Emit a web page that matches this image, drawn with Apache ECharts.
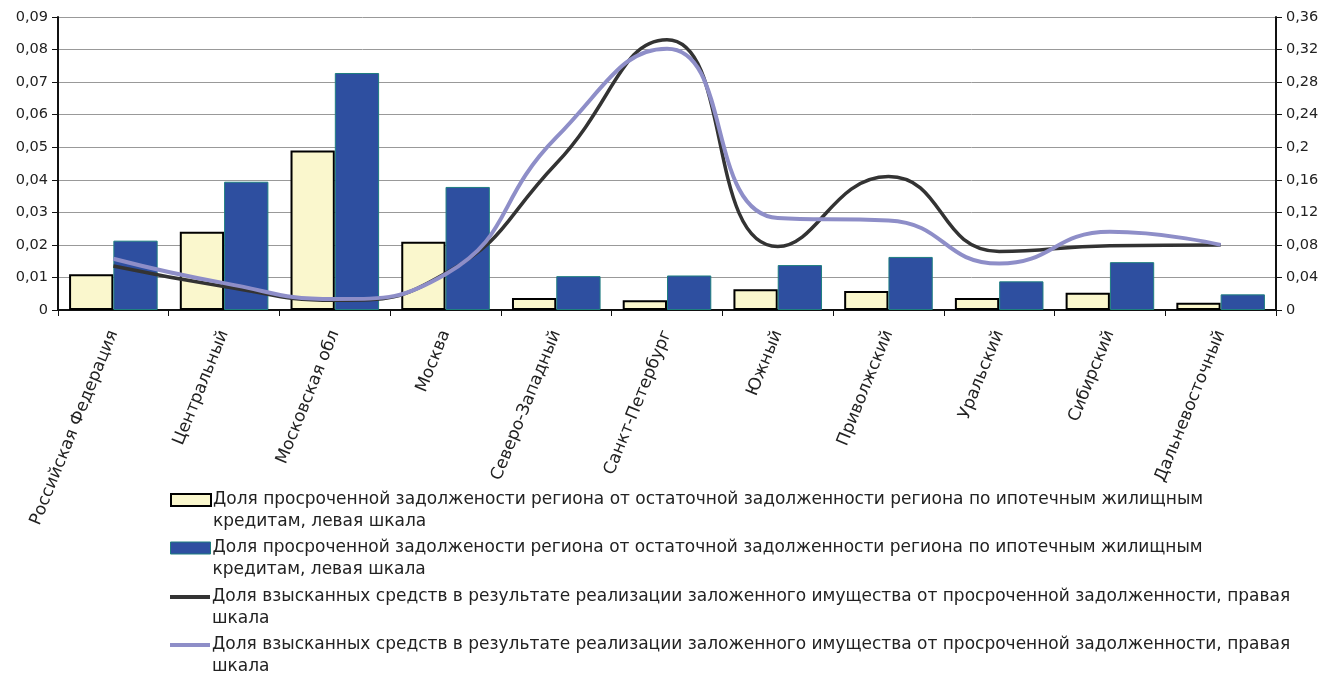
<!DOCTYPE html>
<html><head><meta charset="utf-8">
<script src="https://cdn.jsdelivr.net/npm/echarts@6/dist/echarts.min.js"></script>
<style>html,body{margin:0;padding:0;background:#fff}#c{width:1340px;height:675px}</style>
</head><body><div id="c"></div>
<script>
const categories = ['Российская Федерация','Центральный','Московская обл','Москва','Северо-Западный','Санкт-Петербург','Южный','Приволжский','Уральский','Сибирский','Дальневосточный'];
const yellowBars = [0.011, 0.024, 0.049, 0.021, 0.0037, 0.003, 0.0064, 0.0058, 0.0037, 0.0053, 0.0022];
const blueBars = [0.0213, 0.0394, 0.0728, 0.0378, 0.0104, 0.0106, 0.0138, 0.0163, 0.0088, 0.0147, 0.0048];
const blackLine = [0.054, 0.029, 0.012, 0.045, 0.18, 0.332, 0.078, 0.164, 0.072, 0.079, 0.08];
const purpleLine = [0.063, 0.033, 0.0135, 0.044, 0.212, 0.321, 0.113, 0.11, 0.057, 0.096, 0.08];
const leftTicks = {min: 0, max: 0.09, interval: 0.01};
const rightTicks = {min: 0, max: 0.36, interval: 0.04};
const legendLabels = [
  'Доля просроченной задолжености региона от остаточной задолженности региона по ипотечным жилищным\nкредитам, левая шкала',
  'Доля просроченной задолжености региона от остаточной задолженности региона по ипотечным жилищным\nкредитам, левая шкала',
  'Доля взысканных средств в результате реализации заложенного имущества от просроченной задолженности, правая\nшкала',
  'Доля взысканных средств в результате реализации заложенного имущества от просроченной задолженности, правая\nшкала'
];
const seriesKeys = ['s1','s2','s3','s4'];

const FONT = 'DejaVu Sans';
const txt = '#222';
const fmt = v => String(+v.toFixed(2)).replace('.', ',');

function legendFor(i, centerY, iconH, icon, itemStyle) {
  // three text lines (blank first) so that the real first line is centred on the icon
  return {
    show: true, orient: 'vertical', left: 170, top: centerY - 33, padding: 0,
    itemWidth: 40, itemHeight: iconH, icon: icon,
    data: [{name: seriesKeys[i], itemStyle: itemStyle}],
    selectedMode: false,
    formatter: () => '\u00A0\n' + legendLabels[i],
    textStyle: {fontFamily: FONT, fontSize: 17, color: txt, lineHeight: 22, padding: [0, 0, 0, -3]}
  };
}

const chart = echarts.init(document.getElementById('c'), null, {renderer: 'canvas'});
chart.setOption({
  animation: false,
  textStyle: {fontFamily: FONT},
  grid: {left: 58, right: 64, top: 17, bottom: 365, containLabel: false},
  legend: [
    legendFor(0, 500, 12, 'rect', {color: '#FAF7CD', borderColor: '#000', borderWidth: 2}),
    legendFor(1, 548, 12, 'rect', {color: '#2E4FA0', borderColor: '#1F7F80', borderWidth: 1}),
    legendFor(2, 597, 4, 'rect', {color: '#333333', borderWidth: 0}),
    legendFor(3, 645, 4, 'rect', {color: '#8E8EC8', borderWidth: 0})
  ],
  xAxis: {
    type: 'category', data: categories, boundaryGap: true,
    axisLine: {lineStyle: {color: '#111', width: 2}},
    axisTick: {show: true, length: 6, lineStyle: {color: '#111', width: 1}},
    axisLabel: {interval: 0, rotate: 68, margin: 21, fontSize: 17, color: txt, fontFamily: FONT}
  },
  yAxis: [
    {type: 'value', min: leftTicks.min, max: leftTicks.max, interval: leftTicks.interval, position: 'left',
     axisLine: {show: true, lineStyle: {color: '#111', width: 2}},
     axisTick: {show: true, length: 6, lineStyle: {color: '#111'}},
     axisLabel: {fontSize: 14.5, color: txt, margin: 10, formatter: fmt, fontFamily: FONT},
     splitLine: {show: true, lineStyle: {color: '#999', width: 1}}},
    {type: 'value', min: rightTicks.min, max: rightTicks.max, interval: rightTicks.interval, position: 'right',
     axisLine: {show: true, lineStyle: {color: '#111', width: 2}},
     axisTick: {show: true, length: 6, lineStyle: {color: '#111'}},
     axisLabel: {fontSize: 14.5, color: txt, margin: 10, formatter: fmt, fontFamily: FONT},
     splitLine: {show: false}}
  ],
  series: [
    {name: seriesKeys[0], type: 'bar', yAxisIndex: 0, data: yellowBars, barGap: '0%', barCategoryGap: '20%',
     itemStyle: {color: '#FAF7CD', borderColor: '#000', borderWidth: 2}},
    {name: seriesKeys[1], type: 'bar', yAxisIndex: 0, data: blueBars,
     itemStyle: {color: '#2E4FA0', borderColor: '#1F7F80', borderWidth: 1}},
    {name: seriesKeys[2], type: 'line', yAxisIndex: 1, data: blackLine, smooth: 0.5, showSymbol: false,
     lineStyle: {color: '#333333', width: 3.5}, itemStyle: {color: '#333333'}, z: 3},
    {name: seriesKeys[3], type: 'line', yAxisIndex: 1, data: purpleLine, smooth: 0.5, showSymbol: false,
     lineStyle: {color: '#8E8EC8', width: 4}, itemStyle: {color: '#8E8EC8'}, z: 4}
  ]
});
</script></body></html>
